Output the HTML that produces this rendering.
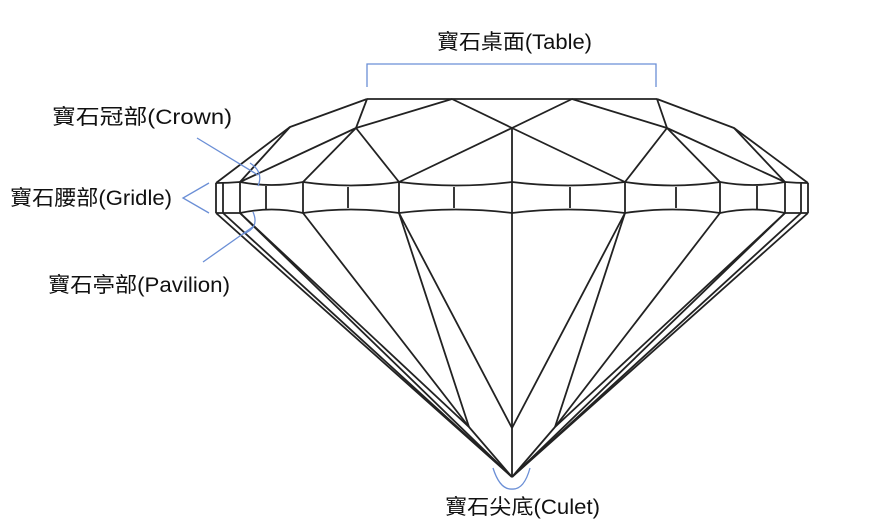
<!DOCTYPE html>
<html><head><meta charset="utf-8"><style>
html,body{margin:0;padding:0;background:#fff;}
svg{display:block;}
text{font-family:"Liberation Sans","Noto Sans CJK TC","Noto Sans CJK SC",sans-serif;font-size:21px;fill:#111;}
</style></head><body>
<svg width="875" height="531" viewBox="0 0 875 531">
<g fill="none" stroke="#222" stroke-width="1.8" stroke-linejoin="round">
 <line x1="367" y1="99" x2="657" y2="99"/>
 <polyline points="367,99 290,127 216,183"/>
 <line x1="290" y1="127" x2="240" y2="182"/>
 <line x1="367" y1="99" x2="356" y2="128"/>
 <line x1="356" y1="128" x2="452" y2="99"/>
 <line x1="452" y1="99" x2="512" y2="128"/>
 <line x1="356" y1="128" x2="240" y2="182"/>
 <line x1="356" y1="128" x2="303" y2="182"/>
 <line x1="356" y1="128" x2="399" y2="182"/>
 <line x1="399" y1="182" x2="512" y2="128"/>
 <polyline points="657,99 734,128 808,183"/>
 <line x1="734" y1="128" x2="785" y2="182"/>
 <line x1="657" y1="99" x2="667" y2="128"/>
 <line x1="667" y1="128" x2="572" y2="99"/>
 <line x1="572" y1="99" x2="512" y2="128"/>
 <line x1="667" y1="128" x2="785" y2="182"/>
 <line x1="667" y1="128" x2="720" y2="182"/>
 <line x1="667" y1="128" x2="625" y2="182"/>
 <line x1="625" y1="182" x2="512" y2="128"/>
 <path d="M216,183 Q228,183 240,182 Q272,188 303,182 Q351,189 399,182 Q456,189 512,182 Q568,189 625,182 Q673,189 720,182 Q753,188 785,182 Q796,183 808,183"/>
 <path d="M216,213 Q228,213 240,213 Q272,206 303,213 Q351,206 399,213 Q456,206 512,213 Q568,206 625,213 Q673,206 720,213 Q753,206 785,213 Q796,213 808,213"/>
 <line x1="216" y1="183" x2="216" y2="213"/>
 <line x1="223" y1="183" x2="223" y2="213"/>
 <line x1="240" y1="182" x2="240" y2="213"/>
 <line x1="266" y1="186" x2="266" y2="209"/>
 <line x1="303" y1="182" x2="303" y2="213"/>
 <line x1="348" y1="187" x2="348" y2="208"/>
 <line x1="399" y1="182" x2="399" y2="213"/>
 <line x1="454" y1="187" x2="454" y2="208"/>
 <line x1="570" y1="187" x2="570" y2="208"/>
 <line x1="625" y1="182" x2="625" y2="213"/>
 <line x1="676" y1="187" x2="676" y2="208"/>
 <line x1="720" y1="182" x2="720" y2="213"/>
 <line x1="757" y1="186" x2="757" y2="209"/>
 <line x1="785" y1="182" x2="785" y2="213"/>
 <line x1="801" y1="183" x2="801" y2="213"/>
 <line x1="808" y1="183" x2="808" y2="213"/>
 <line x1="512" y1="128" x2="512" y2="477"/>
 <line x1="216" y1="213" x2="512" y2="477"/>
 <line x1="223" y1="213" x2="512" y2="477"/>
 <line x1="240" y1="213" x2="512" y2="477"/>
 <line x1="240" y1="213" x2="469" y2="427"/>
 <line x1="303" y1="213" x2="469" y2="427"/>
 <line x1="399" y1="213" x2="469" y2="427"/>
 <line x1="399" y1="213" x2="512" y2="428"/>
 <line x1="469" y1="427" x2="512" y2="477"/>
 <line x1="808" y1="213" x2="512" y2="477"/>
 <line x1="801" y1="213" x2="512" y2="477"/>
 <line x1="785" y1="213" x2="512" y2="477"/>
 <line x1="785" y1="213" x2="555" y2="427"/>
 <line x1="720" y1="213" x2="555" y2="427"/>
 <line x1="625" y1="213" x2="555" y2="427"/>
 <line x1="625" y1="213" x2="512" y2="428"/>
 <line x1="555" y1="427" x2="512" y2="477"/>
</g>
<g fill="none" stroke="#6b8fd6" stroke-width="1.3">
 <polyline points="367,87 367,64 656,64 656,87"/>
 <line x1="197" y1="138" x2="258" y2="175"/>
 <path d="M250,163 Q264,172 258,186"/>
 <polyline points="209,183 183,198 209,213"/>
 <line x1="203" y1="262" x2="254" y2="226"/>
 <path d="M253,212 Q260,228 243,234"/>
 <path d="M493,468 Q500,490 512,489 Q524,490 530,468"/>
</g>
<text x="437" y="49" textLength="155" lengthAdjust="spacingAndGlyphs">寶石桌面(Table)</text>
<text x="52" y="124" textLength="180" lengthAdjust="spacingAndGlyphs">寶石冠部(Crown)</text>
<text x="10" y="205" textLength="162" lengthAdjust="spacingAndGlyphs">寶石腰部(Gridle)</text>
<text x="48" y="292" textLength="182" lengthAdjust="spacingAndGlyphs">寶石亭部(Pavilion)</text>
<text x="445" y="514" textLength="155" lengthAdjust="spacingAndGlyphs">寶石尖底(Culet)</text>
</svg>
</body></html>
